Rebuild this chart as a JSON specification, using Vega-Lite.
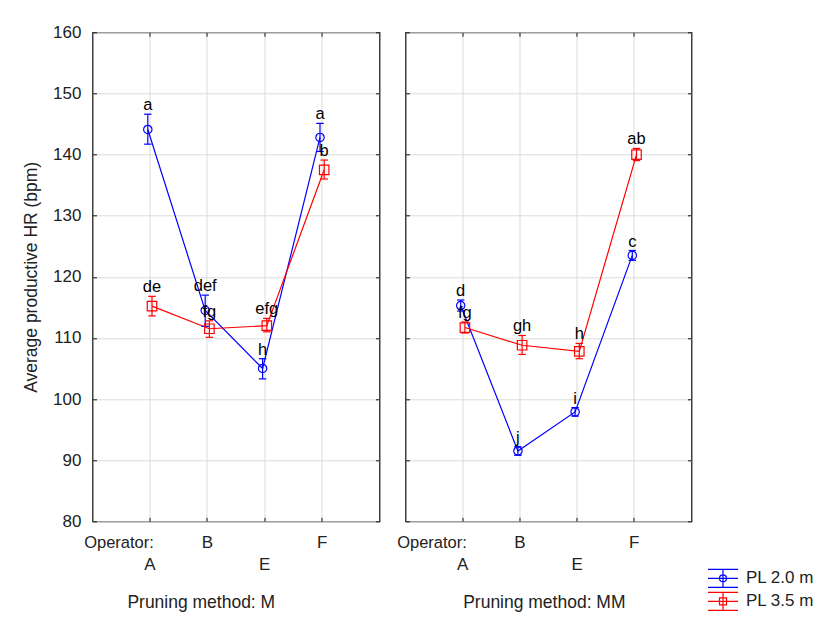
{
  "$schema": "https://vega.github.io/schema/vega-lite/v6.json",
  "padding": {"left": 21.5, "top": 22.3, "right": 0, "bottom": 0},
  "background": "white",
  "config": {
    "font": "Liberation Sans",
    "view": {"stroke": "#111", "strokeWidth": 1.2},
    "axis": {"labelFont": "Liberation Sans", "titleFont": "Liberation Sans", "labelFontSize": 17, "titleFontSize": 17.5, "titleFontWeight": "normal", "labelColor": "#222", "titleColor": "#222", "tickColor": "#111", "gridColor": "#dcdcdc", "gridWidth": 1},
    "title": {"font": "Liberation Sans", "fontSize": 17.5, "fontWeight": "normal", "color": "#222", "frame": "bounds"},
    "legend": {"labelFont": "Liberation Sans", "labelFontSize": 17, "labelColor": "#222"}
  },
  "data": {"values": [
    {"method": "M", "operator": "A", "series": "PL 2.0 m", "mean": 144.1, "lo": 141.7, "hi": 146.6, "label": "a"},
    {"method": "M", "operator": "B", "series": "PL 2.0 m", "mean": 114.5, "lo": 111.9, "hi": 117.0, "label": "def"},
    {"method": "M", "operator": "E", "series": "PL 2.0 m", "mean": 105.0, "lo": 103.3, "hi": 106.6, "label": "h"},
    {"method": "M", "operator": "F", "series": "PL 2.0 m", "mean": 142.8, "lo": 140.5, "hi": 145.1, "label": "a"},
    {"method": "M", "operator": "A", "series": "PL 3.5 m", "mean": 115.2, "lo": 113.6, "hi": 116.8, "label": "de"},
    {"method": "M", "operator": "B", "series": "PL 3.5 m", "mean": 111.5, "lo": 110.1, "hi": 112.8, "label": "fg"},
    {"method": "M", "operator": "E", "series": "PL 3.5 m", "mean": 112.0, "lo": 111.0, "hi": 113.2, "label": "efg"},
    {"method": "M", "operator": "F", "series": "PL 3.5 m", "mean": 137.5, "lo": 136.0, "hi": 139.1, "label": "b"},
    {"method": "MM", "operator": "A", "series": "PL 2.0 m", "mean": 115.3, "lo": 114.4, "hi": 116.2, "label": "d"},
    {"method": "MM", "operator": "B", "series": "PL 2.0 m", "mean": 91.5, "lo": 90.8, "hi": 92.2, "label": "j"},
    {"method": "MM", "operator": "E", "series": "PL 2.0 m", "mean": 97.9, "lo": 97.2, "hi": 98.6, "label": "i"},
    {"method": "MM", "operator": "F", "series": "PL 2.0 m", "mean": 123.5, "lo": 122.7, "hi": 124.3, "label": "c"},
    {"method": "MM", "operator": "A", "series": "PL 3.5 m", "mean": 111.7, "lo": 110.8, "hi": 112.6, "label": "fg"},
    {"method": "MM", "operator": "B", "series": "PL 3.5 m", "mean": 108.8, "lo": 107.3, "hi": 110.4, "label": "gh"},
    {"method": "MM", "operator": "E", "series": "PL 3.5 m", "mean": 107.8, "lo": 106.6, "hi": 109.1, "label": "h"},
    {"method": "MM", "operator": "F", "series": "PL 3.5 m", "mean": 140.0, "lo": 139.0, "hi": 141.0, "label": "ab"}
  ]},
  "spacing": 14,
  "hconcat": [
    {
      "width": 287, "height": 489,
      "transform": [{"filter": "datum.method === 'M'"}],
      "title": {"text": "Pruning method: M", "orient": "bottom", "offset": 22, "frame": "bounds"},
      "layer": [
        {
          "mark": {"type": "line", "strokeWidth": 1.2},
          "encoding": {
            "x": {"field": "operator", "type": "nominal", "sort": ["A", "B", "E", "F"], "scale": {"type": "band", "paddingInner": 0, "paddingOuter": 0.5},
              "axis": {"orient": "bottom", "bandPosition": 0.5, "labelAngle": 0, "labelPadding": 17, "labelLineHeight": 22, "labelBaseline": "top", "labelExpr": "datum.value === 'A' || datum.value === 'E' ? [' ', datum.value] : datum.value", "tickSize": -4, "domain": false, "grid": true, "title": "Operator:", "titleFontSize": 16.5, "titleX": 26, "titleY": 21, "titleAlign": "center", "titleBaseline": "middle", "titleAngle": 0}},
            "xOffset": {"field": "series", "type": "nominal", "scale": {"type": "point", "range": [24.5, 32.9]}},
            "y": {"field": "mean", "type": "quantitative", "scale": {"domain": [80, 160], "zero": false, "nice": false},
              "axis": {"orient": "left", "values": [80, 90, 100, 110, 120, 130, 140, 150, 160], "title": "Average productive HR (bpm)", "titlePadding": 12, "labelPadding": 15.6, "tickSize": -4, "domain": false, "grid": true}},
            "color": {"field": "series", "type": "nominal", "scale": {"domain": ["PL 2.0 m", "PL 3.5 m"], "range": ["#0000ff", "#ff0000"]},
              "legend": {"orient": "none", "legendX": 619.5, "legendY": 535, "title": null, "symbolType": "M-1.5,-0.9H1.5M-1.5,0H1.5M-1.5,0.9H1.5M0,-0.9V0.9", "symbolSize": 400, "symbolStrokeWidth": 1.2, "symbolFillColor": "transparent", "labelOffset": 12, "rowPadding": -4,
                "encode": {"symbols": {"update": {"shape": {"signal": "datum.value === 'PL 2.0 m' ? 'M-1.5,-0.9H1.5M-1.5,0H1.5M-1.5,0.9H1.5M0,-0.9V0.9M0.35,0A0.35,0.35,0,1,1,-0.35,0A0.35,0.35,0,1,1,0.35,0' : 'M-1.5,-0.9H1.5M-1.5,0H1.5M-1.5,0.9H1.5M0,-0.9V0.9M-0.35,-0.35H0.35V0.35H-0.35Z'"}, "fill": {"value": "transparent"}, "fillOpacity": {"value": 0}}}}}}
          }
        },
        {
          "mark": {"type": "rule", "strokeWidth": 1.2},
          "encoding": {
            "x": {"field": "operator", "type": "nominal", "sort": ["A", "B", "E", "F"], "scale": {"type": "band", "paddingInner": 0, "paddingOuter": 0.5},
              "axis": {"orient": "top", "bandPosition": 0.5, "labels": false, "tickSize": -4, "domain": false, "grid": false, "title": null}},
            "xOffset": {"field": "series", "type": "nominal", "scale": {"type": "point", "range": [24.5, 32.9]}},
            "y": {"field": "lo", "type": "quantitative", "scale": {"domain": [80, 160], "zero": false, "nice": false},
              "axis": {"orient": "right", "values": [80, 90, 100, 110, 120, 130, 140, 150, 160], "labels": false, "tickSize": -4, "domain": false, "grid": false, "title": null}},
            "y2": {"field": "hi"},
            "color": {"field": "series", "type": "nominal"}
          }
        },
        {
          "mark": {"type": "point", "shape": "M-1,0H1", "size": 56, "strokeWidth": 1.2, "filled": false, "opacity": 1},
          "encoding": {
            "x": {"field": "operator", "type": "nominal", "sort": ["A", "B", "E", "F"], "scale": {"type": "band", "paddingInner": 0, "paddingOuter": 0.5}, "axis": null},
            "xOffset": {"field": "series", "type": "nominal", "scale": {"type": "point", "range": [24.5, 32.9]}},
            "y": {"field": "lo", "type": "quantitative", "scale": {"domain": [80, 160], "zero": false, "nice": false}, "axis": null},
            "color": {"field": "series", "type": "nominal"}
          }
        },
        {
          "mark": {"type": "point", "shape": "M-1,0H1", "size": 56, "strokeWidth": 1.2, "filled": false, "opacity": 1},
          "encoding": {
            "x": {"field": "operator", "type": "nominal", "sort": ["A", "B", "E", "F"], "scale": {"type": "band", "paddingInner": 0, "paddingOuter": 0.5}, "axis": null},
            "xOffset": {"field": "series", "type": "nominal", "scale": {"type": "point", "range": [24.5, 32.9]}},
            "y": {"field": "hi", "type": "quantitative", "scale": {"domain": [80, 160], "zero": false, "nice": false}, "axis": null},
            "color": {"field": "series", "type": "nominal"}
          }
        },
        {
          "transform": [{"filter": "datum.series === 'PL 2.0 m'"}],
          "mark": {"type": "point", "shape": "circle", "size": 70, "strokeWidth": 1.2, "filled": false, "opacity": 1},
          "encoding": {
            "x": {"field": "operator", "type": "nominal", "sort": ["A", "B", "E", "F"], "scale": {"type": "band", "paddingInner": 0, "paddingOuter": 0.5}, "axis": null},
            "xOffset": {"field": "series", "type": "nominal", "scale": {"type": "point", "range": [24.5, 32.9]}},
            "y": {"field": "mean", "type": "quantitative", "scale": {"domain": [80, 160], "zero": false, "nice": false}, "axis": null},
            "color": {"field": "series", "type": "nominal"}
          }
        },
        {
          "transform": [{"filter": "datum.series === 'PL 3.5 m'"}],
          "mark": {"type": "point", "shape": "square", "size": 90, "strokeWidth": 1.2, "filled": false, "opacity": 1},
          "encoding": {
            "x": {"field": "operator", "type": "nominal", "sort": ["A", "B", "E", "F"], "scale": {"type": "band", "paddingInner": 0, "paddingOuter": 0.5}, "axis": null},
            "xOffset": {"field": "series", "type": "nominal", "scale": {"type": "point", "range": [24.5, 32.9]}},
            "y": {"field": "mean", "type": "quantitative", "scale": {"domain": [80, 160], "zero": false, "nice": false}, "axis": null},
            "color": {"field": "series", "type": "nominal"}
          }
        },
        {
          "mark": {"type": "text", "baseline": "alphabetic", "dy": -4, "fontSize": 16.5, "font": "Liberation Sans", "color": "#000"},
          "encoding": {
            "x": {"field": "operator", "type": "nominal", "sort": ["A", "B", "E", "F"], "scale": {"type": "band", "paddingInner": 0, "paddingOuter": 0.5}, "axis": null},
            "xOffset": {"field": "series", "type": "nominal", "scale": {"type": "point", "range": [24.5, 32.9]}},
            "y": {"field": "hi", "type": "quantitative", "scale": {"domain": [80, 160], "zero": false, "nice": false}, "axis": null},
            "text": {"field": "label"}
          }
        }
      ],
      "resolve": {"axis": {"x": "independent", "y": "independent"}}
    },
    {
      "width": 286, "height": 489,
      "transform": [{"filter": "datum.method === 'MM'"}],
      "title": {"text": "Pruning method: MM", "orient": "bottom", "offset": 22, "frame": "bounds"},
      "layer": [
        {
          "mark": {"type": "line", "strokeWidth": 1.2},
          "encoding": {
            "x": {"field": "operator", "type": "nominal", "sort": ["A", "B", "E", "F"], "scale": {"type": "band", "paddingInner": 0, "paddingOuter": 0.5},
              "axis": {"orient": "bottom", "bandPosition": 0.5, "labelAngle": 0, "labelPadding": 17, "labelLineHeight": 22, "labelBaseline": "top", "labelExpr": "datum.value === 'A' || datum.value === 'E' ? [' ', datum.value] : datum.value", "tickSize": -4, "domain": false, "grid": true, "title": "Operator:", "titleFontSize": 16.5, "titleX": 26, "titleY": 21, "titleAlign": "center", "titleBaseline": "middle", "titleAngle": 0}},
            "xOffset": {"field": "series", "type": "nominal", "scale": {"type": "point", "range": [24.5, 32.9]}},
            "y": {"field": "mean", "type": "quantitative", "scale": {"domain": [80, 160], "zero": false, "nice": false},
              "axis": {"orient": "left", "values": [80, 90, 100, 110, 120, 130, 140, 150, 160], "labels": false, "title": null, "tickSize": -4, "domain": false, "grid": true}},
            "color": {"field": "series", "type": "nominal"}
          }
        },
        {
          "mark": {"type": "rule", "strokeWidth": 1.2},
          "encoding": {
            "x": {"field": "operator", "type": "nominal", "sort": ["A", "B", "E", "F"], "scale": {"type": "band", "paddingInner": 0, "paddingOuter": 0.5},
              "axis": {"orient": "top", "bandPosition": 0.5, "labels": false, "tickSize": -4, "domain": false, "grid": false, "title": null}},
            "xOffset": {"field": "series", "type": "nominal", "scale": {"type": "point", "range": [24.5, 32.9]}},
            "y": {"field": "lo", "type": "quantitative", "scale": {"domain": [80, 160], "zero": false, "nice": false},
              "axis": {"orient": "right", "values": [80, 90, 100, 110, 120, 130, 140, 150, 160], "labels": false, "tickSize": -4, "domain": false, "grid": false, "title": null}},
            "y2": {"field": "hi"},
            "color": {"field": "series", "type": "nominal"}
          }
        },
        {
          "mark": {"type": "point", "shape": "M-1,0H1", "size": 56, "strokeWidth": 1.2, "filled": false, "opacity": 1},
          "encoding": {
            "x": {"field": "operator", "type": "nominal", "sort": ["A", "B", "E", "F"], "scale": {"type": "band", "paddingInner": 0, "paddingOuter": 0.5}, "axis": null},
            "xOffset": {"field": "series", "type": "nominal", "scale": {"type": "point", "range": [24.5, 32.9]}},
            "y": {"field": "lo", "type": "quantitative", "scale": {"domain": [80, 160], "zero": false, "nice": false}, "axis": null},
            "color": {"field": "series", "type": "nominal"}
          }
        },
        {
          "mark": {"type": "point", "shape": "M-1,0H1", "size": 56, "strokeWidth": 1.2, "filled": false, "opacity": 1},
          "encoding": {
            "x": {"field": "operator", "type": "nominal", "sort": ["A", "B", "E", "F"], "scale": {"type": "band", "paddingInner": 0, "paddingOuter": 0.5}, "axis": null},
            "xOffset": {"field": "series", "type": "nominal", "scale": {"type": "point", "range": [24.5, 32.9]}},
            "y": {"field": "hi", "type": "quantitative", "scale": {"domain": [80, 160], "zero": false, "nice": false}, "axis": null},
            "color": {"field": "series", "type": "nominal"}
          }
        },
        {
          "transform": [{"filter": "datum.series === 'PL 2.0 m'"}],
          "mark": {"type": "point", "shape": "circle", "size": 70, "strokeWidth": 1.2, "filled": false, "opacity": 1},
          "encoding": {
            "x": {"field": "operator", "type": "nominal", "sort": ["A", "B", "E", "F"], "scale": {"type": "band", "paddingInner": 0, "paddingOuter": 0.5}, "axis": null},
            "xOffset": {"field": "series", "type": "nominal", "scale": {"type": "point", "range": [24.5, 32.9]}},
            "y": {"field": "mean", "type": "quantitative", "scale": {"domain": [80, 160], "zero": false, "nice": false}, "axis": null},
            "color": {"field": "series", "type": "nominal"}
          }
        },
        {
          "transform": [{"filter": "datum.series === 'PL 3.5 m'"}],
          "mark": {"type": "point", "shape": "square", "size": 90, "strokeWidth": 1.2, "filled": false, "opacity": 1},
          "encoding": {
            "x": {"field": "operator", "type": "nominal", "sort": ["A", "B", "E", "F"], "scale": {"type": "band", "paddingInner": 0, "paddingOuter": 0.5}, "axis": null},
            "xOffset": {"field": "series", "type": "nominal", "scale": {"type": "point", "range": [24.5, 32.9]}},
            "y": {"field": "mean", "type": "quantitative", "scale": {"domain": [80, 160], "zero": false, "nice": false}, "axis": null},
            "color": {"field": "series", "type": "nominal"}
          }
        },
        {
          "mark": {"type": "text", "baseline": "alphabetic", "dy": -4, "fontSize": 16.5, "font": "Liberation Sans", "color": "#000"},
          "encoding": {
            "x": {"field": "operator", "type": "nominal", "sort": ["A", "B", "E", "F"], "scale": {"type": "band", "paddingInner": 0, "paddingOuter": 0.5}, "axis": null},
            "xOffset": {"field": "series", "type": "nominal", "scale": {"type": "point", "range": [24.5, 32.9]}},
            "y": {"field": "hi", "type": "quantitative", "scale": {"domain": [80, 160], "zero": false, "nice": false}, "axis": null},
            "text": {"field": "label"}
          }
        }
      ],
      "resolve": {"axis": {"x": "independent", "y": "independent"}}
    }
  ]
}
